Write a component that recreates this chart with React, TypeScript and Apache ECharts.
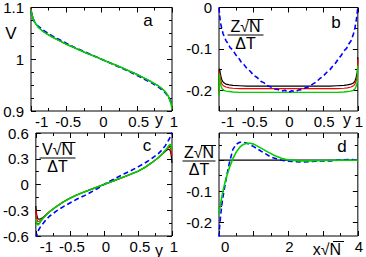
import React, { useEffect, useRef } from "react";
import * as echarts from "echarts";

// ---------- Panel a : V vs y ----------
const xA = [-1, -0.99, -0.97, -0.95, -0.9, -0.85, -0.8, -0.7, -0.6, -0.5, -0.4, -0.3, -0.2, -0.1, 0, 0.1, 0.2, 0.3, 0.4, 0.5, 0.6, 0.7, 0.8, 0.85, 0.9, 0.95, 0.97, 0.99, 1];
const aGreen = [1.096, 1.088, 1.079, 1.072, 1.062, 1.056, 1.051, 1.043, 1.036, 1.029, 1.023, 1.017, 1.011, 1.006, 1.0, 0.994, 0.989, 0.983, 0.977, 0.971, 0.964, 0.957, 0.949, 0.944, 0.938, 0.928, 0.921, 0.912, 0.904];
const aRed = [1.1, 1.089, 1.079, 1.072, 1.062, 1.056, 1.051, 1.043, 1.036, 1.029, 1.023, 1.017, 1.011, 1.006, 1.0, 0.994, 0.989, 0.983, 0.977, 0.971, 0.964, 0.957, 0.949, 0.944, 0.938, 0.928, 0.921, 0.913, 0.906];
const aBlack = [1.1, 1.09, 1.08, 1.072, 1.062, 1.056, 1.051, 1.043, 1.036, 1.029, 1.023, 1.017, 1.011, 1.006, 1.0, 0.994, 0.989, 0.983, 0.977, 0.971, 0.964, 0.957, 0.949, 0.944, 0.938, 0.928, 0.921, 0.914, 0.908];
const aBlue = [1.094, 1.086, 1.078, 1.072, 1.064, 1.059, 1.054, 1.045, 1.038, 1.031, 1.024, 1.018, 1.012, 1.006, 1.0, 0.994, 0.988, 0.982, 0.976, 0.969, 0.962, 0.955, 0.947, 0.942, 0.936, 0.928, 0.922, 0.915, 0.912];

// ---------- Panel b : Z sqrt(N)/dT vs y ----------
const xB = [-1, -0.995, -0.99, -0.98, -0.97, -0.96, -0.95, -0.93, -0.9, -0.85, -0.8, -0.7, -0.6, -0.5, -0.4, -0.3, -0.2, -0.1, 0, 0.1, 0.2, 0.3, 0.4, 0.5, 0.6, 0.7, 0.8, 0.85, 0.9, 0.93, 0.95, 0.96, 0.97, 0.98, 0.99, 0.995, 1];
const bBlack = [-0.205, -0.148, -0.15, -0.16, -0.168, -0.174, -0.178, -0.182, -0.185, -0.187, -0.188, -0.189, -0.19, -0.19, -0.19, -0.19, -0.19, -0.19, -0.19, -0.19, -0.19, -0.19, -0.19, -0.19, -0.19, -0.189, -0.188, -0.187, -0.185, -0.183, -0.18, -0.177, -0.172, -0.166, -0.158, -0.15, -0.12];
const bRed = [-0.21, -0.155, -0.162, -0.172, -0.179, -0.184, -0.187, -0.19, -0.192, -0.194, -0.195, -0.196, -0.196, -0.196, -0.196, -0.196, -0.196, -0.196, -0.196, -0.196, -0.196, -0.196, -0.196, -0.196, -0.196, -0.196, -0.195, -0.194, -0.192, -0.19, -0.187, -0.184, -0.18, -0.175, -0.168, -0.16, -0.125];
const bGreen = [-0.215, -0.16, -0.172, -0.183, -0.19, -0.194, -0.197, -0.2, -0.202, -0.203, -0.204, -0.205, -0.205, -0.205, -0.205, -0.205, -0.205, -0.205, -0.205, -0.205, -0.205, -0.205, -0.205, -0.205, -0.205, -0.205, -0.204, -0.203, -0.202, -0.2, -0.198, -0.196, -0.193, -0.188, -0.182, -0.172, -0.14];
const xBb = [-1, -0.99, -0.98, -0.96, -0.94, -0.92, -0.9, -0.87, -0.84, -0.8, -0.76, -0.72, -0.68, -0.64, -0.6, -0.55, -0.5, -0.45, -0.4, -0.35, -0.3, -0.25, -0.2, -0.15, -0.1, -0.05, 0, 0.05, 0.1, 0.15, 0.2, 0.25, 0.3, 0.35, 0.4, 0.45, 0.5, 0.55, 0.6, 0.64, 0.68, 0.72, 0.76, 0.8, 0.84, 0.87, 0.9, 0.92, 0.94, 0.96, 0.98, 0.99, 1];
const bBlue = [0.0, -0.02, -0.036, -0.051, -0.064, -0.071, -0.08, -0.087, -0.097, -0.103, -0.114, -0.121, -0.132, -0.138, -0.147, -0.154, -0.164, -0.169, -0.178, -0.182, -0.189, -0.192, -0.197, -0.198, -0.202, -0.2, -0.205, -0.201, -0.203, -0.199, -0.198, -0.194, -0.191, -0.185, -0.18, -0.172, -0.166, -0.157, -0.15, -0.141, -0.134, -0.124, -0.116, -0.105, -0.098, -0.088, -0.081, -0.072, -0.062, -0.048, -0.028, -0.014, 0.0];

// ---------- Panel c : V sqrt(N)/dT vs y ----------
const xC = [-1, -0.99, -0.98, -0.97, -0.96, -0.95, -0.93, -0.9, -0.85, -0.8, -0.7, -0.6, -0.5, -0.4, -0.3, -0.2, -0.1, 0, 0.1, 0.2, 0.3, 0.4, 0.5, 0.6, 0.7, 0.8, 0.85, 0.9, 0.93, 0.95, 0.96, 0.97, 0.98, 0.99, 1];
const cGreen = [-0.4, -0.44, -0.463, -0.47, -0.466, -0.457, -0.432, -0.4, -0.355, -0.318, -0.258, -0.205, -0.16, -0.122, -0.09, -0.06, -0.03, 0.0, 0.03, 0.06, 0.09, 0.122, 0.155, 0.198, 0.252, 0.313, 0.35, 0.395, 0.425, 0.448, 0.458, 0.465, 0.462, 0.442, 0.4];
const cRed = [-0.3, -0.38, -0.42, -0.432, -0.433, -0.428, -0.418, -0.396, -0.355, -0.318, -0.258, -0.205, -0.16, -0.122, -0.09, -0.06, -0.03, 0.0, 0.03, 0.06, 0.09, 0.122, 0.155, 0.198, 0.252, 0.313, 0.35, 0.393, 0.418, 0.432, 0.435, 0.432, 0.415, 0.38, 0.33];
const cBlack = [-0.25, -0.34, -0.38, -0.398, -0.405, -0.405, -0.4, -0.388, -0.353, -0.318, -0.258, -0.205, -0.16, -0.122, -0.09, -0.06, -0.03, 0.0, 0.03, 0.06, 0.09, 0.122, 0.155, 0.198, 0.252, 0.313, 0.348, 0.385, 0.405, 0.412, 0.41, 0.4, 0.38, 0.33, 0.25];
const xCb = [-1, -0.99, -0.98, -0.96, -0.93, -0.9, -0.85, -0.8, -0.7, -0.6, -0.5, -0.4, -0.3, -0.2, -0.1, 0, 0.1, 0.2, 0.3, 0.4, 0.5, 0.6, 0.7, 0.8, 0.85, 0.9, 0.93, 0.96, 0.98, 0.99, 1];
const cBlue = [-0.63, -0.6, -0.57, -0.53, -0.49, -0.46, -0.41, -0.37, -0.31, -0.26, -0.215, -0.172, -0.135, -0.094, -0.05, 0.0, 0.043, 0.085, 0.125, 0.163, 0.205, 0.25, 0.3, 0.36, 0.4, 0.45, 0.49, 0.53, 0.57, 0.59, 0.61];

// ---------- Panel d : Z sqrt(N)/dT vs x sqrt(N) ----------
const xD = [0, 0.025, 0.05, 0.1, 0.15, 0.2, 0.3, 0.4, 0.5, 0.6, 0.7, 0.8, 0.9, 1.0, 1.2, 1.4, 1.6, 1.8, 2.0, 2.3, 2.6, 3.0, 3.5, 4.0];
const dGreen = [-0.175, -0.155, -0.138, -0.108, -0.082, -0.06, -0.024, 0.005, 0.027, 0.042, 0.051, 0.055, 0.055, 0.052, 0.04, 0.027, 0.015, 0.006, 0.001, -0.002, -0.002, -0.001, 0.0, 0.0];
const xDb = [0, 0.02, 0.05, 0.1, 0.15, 0.2, 0.25, 0.3, 0.4, 0.5, 0.6, 0.7, 0.8, 0.9, 1.0, 1.2, 1.5, 1.8, 2.0, 2.2, 2.4, 2.6, 2.8, 3.0, 3.2, 3.4, 3.6, 3.8, 3.9, 4.0];
const dBlue = [-0.25, -0.21, -0.175, -0.128, -0.095, -0.064, -0.035, -0.008, 0.035, 0.052, 0.058, 0.058, 0.055, 0.05, 0.044, 0.03, 0.01, 0.0, -0.003, -0.005, -0.006, -0.005, -0.003, -0.002, -0.002, 0.0, 0.001, 0.003, 0.001, 0.0];
const xDzero = [0, 4];
const dZero = [0, 0];

// ---------- tick values ----------
const yTickMajor = [-1, -0.5, 0, 0.5, 1];
const yTickMinor = [-0.75, -0.25, 0.25, 0.75];
const aLabelsY = [0.9, 1, 1.1];
const aMinorY = [0.925, 0.95, 0.975, 1.025, 1.05, 1.075];
const bLabelsY = [-0.2, -0.1, 0];
const bMinorY = [-0.15, -0.05];
const cLabelsY = [-0.6, -0.3, 0, 0.3, 0.6];
const cMinorY = [-0.45, -0.15, 0.15, 0.45];
const dLabelsX = [0, 2, 4];
const dMajorX = [0, 1, 2, 3, 4];
const dMinorX = [0.5, 1.5, 2.5, 3.5];
const dLabelsY = [-0.2, -0.1];
const dMajorY = [-0.2, -0.1, 0];
const dMinorY = [-0.15, -0.05, 0.05];

const FONT = "Liberation Sans, Arial, sans-serif";
const BLUE = "#0000ff";
const GREEN = "#00d000";
const RED = "#ff0000";

type Panel = {
  left: number; top: number; width: number; height: number;
  xMin: number; xMax: number; yMin: number; yMax: number;
  xMajor: number[]; xMinor: number[]; xLabels: number[];
  yMajor: number[]; yMinor: number[]; yLabels: number[];
  xPad: number;
};

const panels: Panel[] = [
  { left: 31, top: 5, width: 141, height: 106, xMin: -1, xMax: 1, yMin: 0.9, yMax: 1.1, xMajor: yTickMajor, xMinor: yTickMinor, xLabels: yTickMajor, yMajor: aLabelsY, yMinor: aMinorY, yLabels: aLabelsY, xPad: 4 },
  { left: 219, top: 5, width: 142, height: 106, xMin: -1, xMax: 1, yMin: -0.25, yMax: 0, xMajor: yTickMajor, xMinor: yTickMinor, xLabels: yTickMajor, yMajor: bLabelsY, yMinor: bMinorY, yLabels: bLabelsY, xPad: 2 },
  { left: 31, top: 133, width: 141, height: 103, xMin: -1, xMax: 1, yMin: -0.6, yMax: 0.6, xMajor: yTickMajor, xMinor: yTickMinor, xLabels: yTickMajor, yMajor: cLabelsY, yMinor: cMinorY, yLabels: cLabelsY, xPad: 4 },
  { left: 219, top: 133, width: 142, height: 103, xMin: 0, xMax: 4, yMin: -0.245, yMax: 0.088, xMajor: dMajorX, xMinor: dMinorX, xLabels: dLabelsX, yMajor: dMajorY, yMinor: dMinorY, yLabels: dLabelsY, xPad: 2 },
];

const fmt = (v: number) => String(Math.round(v * 1000) / 1000);

function buildAxes(p: Panel, g: number) {
  const xs: any[] = [];
  const ys: any[] = [];
  const common = { gridIndex: g, type: "value", axisLine: { show: false, onZero: false }, splitLine: { show: false } };
  for (const pos of ["bottom", "top"]) {
    xs.push({
      ...common, position: pos, min: p.xMin, max: p.xMax,
      axisTick: { show: true, inside: true, length: 5, customValues: p.xMajor, lineStyle: { color: "#000", width: 1 } },
      axisLabel: pos === "bottom"
        ? { show: true, customValues: p.xLabels, formatter: fmt, color: "#000", fontFamily: FONT, fontSize: 15, margin: 3, padding: [0, 0, 0, p.xPad], alignMinLabel: "left" }
        : { show: false },
    });
    xs.push({
      ...common, position: pos, min: p.xMin, max: p.xMax,
      axisTick: { show: true, inside: true, length: 3, customValues: p.xMinor, lineStyle: { color: "#000", width: 1 } },
      axisLabel: { show: false },
    });
  }
  for (const pos of ["left", "right"]) {
    ys.push({
      ...common, position: pos, min: p.yMin, max: p.yMax,
      axisTick: { show: true, inside: true, length: 5, customValues: p.yMajor, lineStyle: { color: "#000", width: 1 } },
      axisLabel: pos === "left"
        ? { show: true, customValues: p.yLabels, formatter: fmt, color: "#000", fontFamily: FONT, fontSize: 15, margin: 7 }
        : { show: false },
    });
    ys.push({
      ...common, position: pos, min: p.yMin, max: p.yMax,
      axisTick: { show: true, inside: true, length: 3, customValues: p.yMinor, lineStyle: { color: "#000", width: 1 } },
      axisLabel: { show: false },
    });
  }
  return { xs, ys };
}

function zip(x: number[], y: number[]) {
  return x.map((v, i) => [v, y[i]]);
}

function line(g: number, x: number[], y: number[], color: string, width: number, dashed = false) {
  return {
    type: "line",
    xAxisIndex: g * 4,
    yAxisIndex: g * 4,
    data: zip(x, y),
    showSymbol: false,
    symbol: "none",
    clip: true,
    lineStyle: { color, width, type: dashed ? [5, 3] : "solid" },
    z: 3,
  };
}

function text(x: number, y: number, s: string, size: number, align = "center") {
  return {
    type: "text",
    x, y,
    style: { text: s, font: `${size}px ${FONT}`, fill: "#000", align, verticalAlign: "middle", textAlign: align, textVerticalAlign: "middle" },
    z: 10,
  };
}

function hline(x1: number, x2: number, y: number, w = 1.2) {
  return { type: "line", shape: { x1, y1: y, x2, y2: y }, style: { stroke: "#000", lineWidth: w }, z: 10 };
}

function frac(cx: number, cy: number, top: string, barW: number, olFrom: number, olTo: number) {
  return [
    text(cx, cy - 8.5, top, 16),
    hline(cx + olFrom, cx + olTo, cy - 15.5, 1),
    hline(cx - barW / 2, cx + barW / 2, cy, 1.2),
    text(cx, cy + 8.5, "ΔT", 16),
  ];
}

export default function App() {
  const ref = useRef<HTMLDivElement>(null);
  useEffect(() => {
    if (!ref.current) return;
    const chart = echarts.init(ref.current, undefined, { renderer: "svg" });
    const grids = panels.map((p) => ({
      left: p.left, top: p.top, width: p.width, height: p.height,
      show: true, borderColor: "#000", borderWidth: 1, backgroundColor: "transparent",
    }));
    const xAxis: any[] = [];
    const yAxis: any[] = [];
    panels.forEach((p, g) => {
      const { xs, ys } = buildAxes(p, g);
      xAxis.push(...xs);
      yAxis.push(...ys);
    });
    const series = [
      line(0, xA, aBlack, "#000", 1),
      line(0, xA, aRed, RED, 1),
      line(0, xA, aBlue, BLUE, 1.6, true),
      line(0, xA, aGreen, GREEN, 1.6),
      line(1, xB, bBlack, "#000", 1.2),
      line(1, xB, bRed, RED, 1.2),
      line(1, xB, bGreen, GREEN, 1.4),
      line(1, xBb, bBlue, BLUE, 1.6, true),
      line(2, xC, cBlack, "#000", 1.2),
      line(2, xC, cRed, RED, 1.2),
      line(2, xCb, cBlue, BLUE, 1.6, true),
      line(2, xC, cGreen, GREEN, 1.6),
      line(3, xDzero, dZero, "#000", 1.2),
      line(3, xDb, dBlue, BLUE, 1.6, true),
      line(3, xD, dGreen, GREEN, 1.6),
    ];
    const graphic = [
      text(11, 33, "V", 17),
      text(148, 20, "a", 17),
      text(159, 119, "y", 16),
      text(336, 22, "b", 17),
      text(347, 119, "y", 16),
      text(147, 145, "c", 17),
      text(159, 250, "y", 16),
      text(342, 146, "d", 17),
      text(327, 249, "x√N", 16),
      hline(333, 344, 241.5, 1),
      ...frac(245.5, 35, "Z√N", 36, 2, 18),
      ...frac(57.5, 158, "V√N", 36, 4, 18),
      ...frac(199, 161, "Z√N", 33, 2, 17),
    ];
    chart.setOption({
      animation: false,
      backgroundColor: "#fff",
      grid: grids,
      xAxis,
      yAxis,
      series,
      graphic,
    });
    return () => chart.dispose();
  }, []);
  return <div ref={ref} style={{ position: "absolute", left: 0, top: 0, width: 366, height: 257 }} />;
}
